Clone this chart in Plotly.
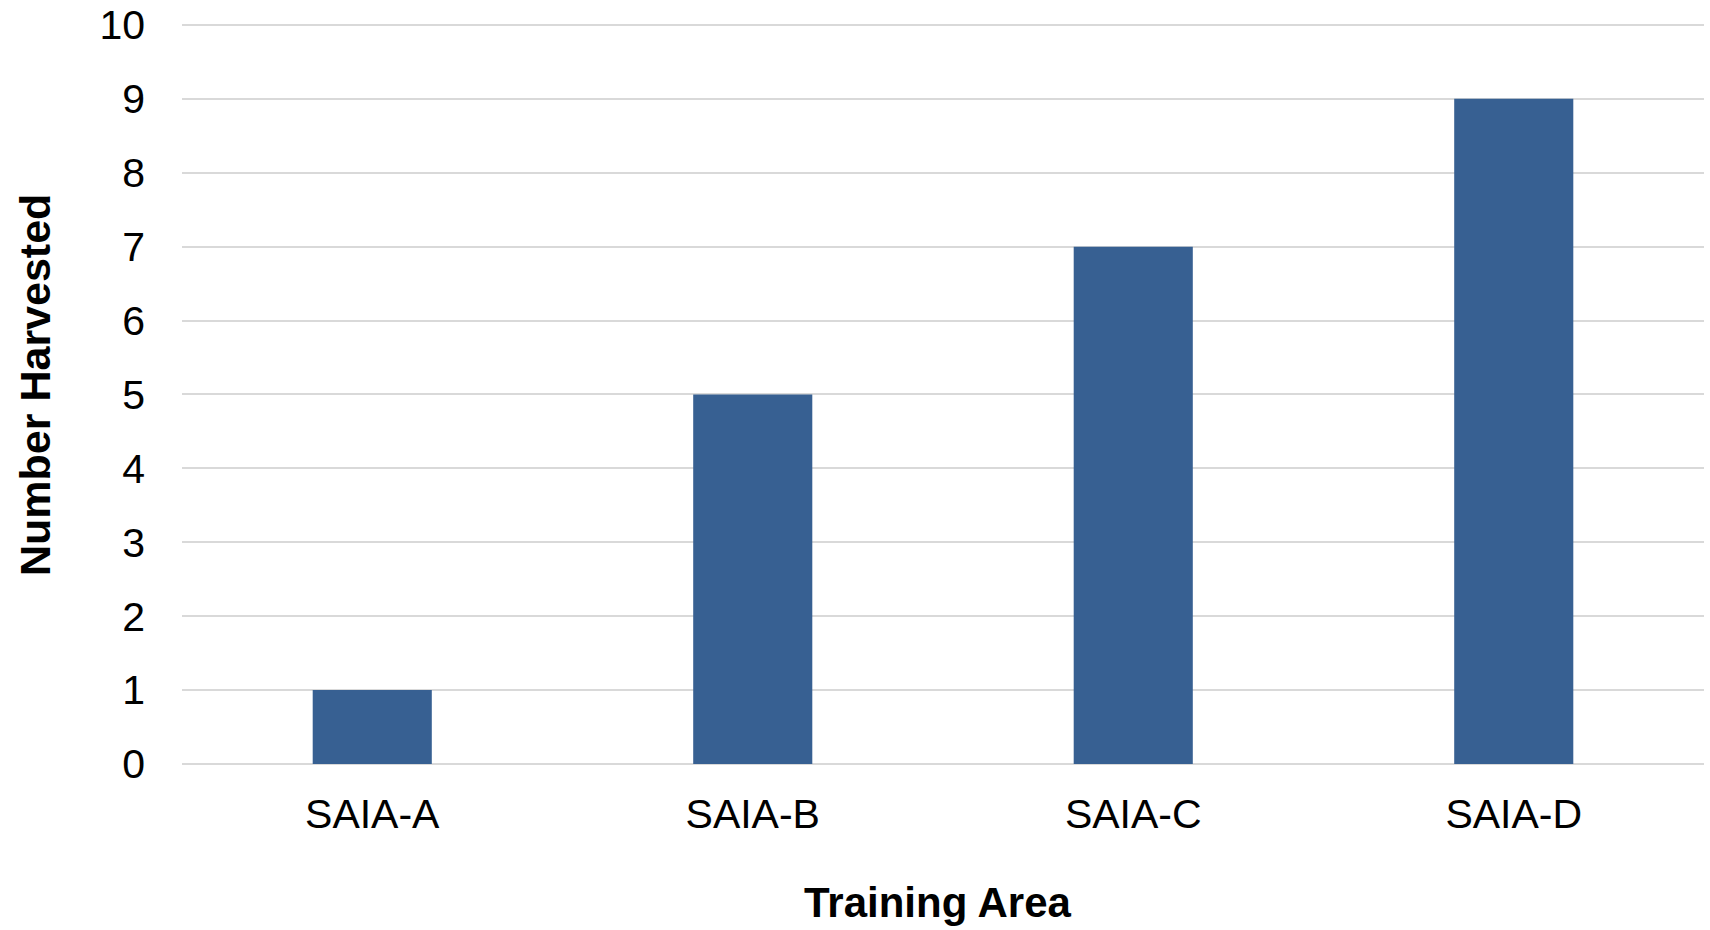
import plotly.graph_objects as go

# Harvest counts per training area
areas = ["SAIA-A", "SAIA-B", "SAIA-C", "SAIA-D"]
harvested = [1, 5, 7, 9]
y_ticks = [0, 1, 2, 3, 4, 5, 6, 7, 8, 9, 10]

FONT = "Liberation Sans, Arial, sans-serif"
BAR_COLOR = "#376092"
GRID_COLOR = "#d9d9d9"

W, H = 1710, 930
M_L, M_R, M_T, M_B = 182, 6, 22, 166
plot_w = W - M_L - M_R
plot_h = H - M_T - M_B

fig = go.Figure(
    go.Bar(
        x=areas,
        y=harvested,
        marker=dict(color=BAR_COLOR, line=dict(width=0)),
        hoverinfo="x+y",
    )
)

fig.update_layout(
    width=W,
    height=H,
    margin=dict(l=M_L, r=M_R, t=M_T, b=M_B, autoexpand=False),
    paper_bgcolor="white",
    plot_bgcolor="white",
    bargap=0.687,
    showlegend=False,
    font=dict(family=FONT, size=41, color="black"),
    xaxis=dict(
        automargin=False,
        showgrid=False,
        showline=False,
        zeroline=False,
        ticks="",
        ticklabelstandoff=22,
        tickfont=dict(family=FONT, size=41, color="black"),
    ),
    yaxis=dict(
        automargin=False,
        # small headroom so the gridline at 10 is drawn inside the plot area
        range=[0, 10.04],
        tickvals=y_ticks,
        showgrid=True,
        gridcolor=GRID_COLOR,
        gridwidth=1.5,
        zeroline=True,
        zerolinecolor=GRID_COLOR,
        zerolinewidth=1.5,
        showline=False,
        ticks="",
        ticklabelstandoff=36,
        tickfont=dict(family=FONT, size=41, color="black"),
    ),
    annotations=[
        dict(
            text="<b>Number Harvested</b>",
            xref="paper", yref="paper",
            x=(35 - M_L) / plot_w,
            y=(H - M_B - 385) / plot_h,
            xanchor="center", yanchor="middle",
            textangle=-90,
            showarrow=False,
            font=dict(family=FONT, size=43, color="black"),
        ),
        dict(
            text="<b>Training Area</b>",
            xref="paper", yref="paper",
            x=(937 - M_L) / plot_w,
            y=-(903 - (H - M_B)) / plot_h,
            xanchor="center", yanchor="middle",
            showarrow=False,
            font=dict(family=FONT, size=42, color="black"),
        ),
    ],
)

fig.write_html("out.html")
